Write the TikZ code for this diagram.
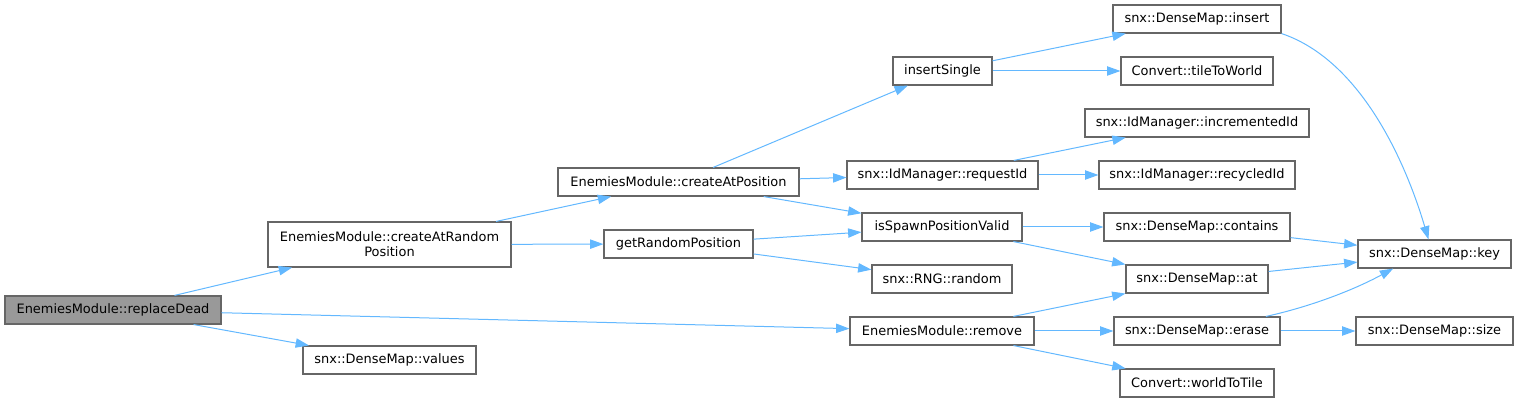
\documentclass[tikz,border=0pt]{standalone}
\usepackage{fontspec}
\setmainfont{DejaVu Sans}
\usepackage{xcolor}
\usepackage{tikz}
\usetikzlibrary{arrows.meta, positioning}
\definecolor{edgeblue}{HTML}{63B8FF}
\definecolor{boxgray}{HTML}{666666}
\tikzstyle{func}   = [rectangle, draw=boxgray, line width=0.85pt, fill=white, text centered,
                       minimum height=21pt, inner sep=0pt, font=\fontsize{9.7}{11.5}\selectfont]
\tikzstyle{root}   = [func, fill=black!40]
\tikzstyle{call}   = [-{Triangle[length=10pt, width=7pt]}, draw=edgeblue, line width=0.75pt]

\begin{document}
\begin{tikzpicture}[x=0.75pt, y=-0.75pt]
  \useasboundingbox (0,0) rectangle (1518,402);

  % Root function
  \node[root, minimum width=162pt] (replaceDead) at (113,310) {EnemiesModule::replaceDead};

  % First level
  \node[func, minimum width=182.25pt, minimum height=33.75pt, align=center] (createRandom) at (389.5,244.5)
    {EnemiesModule::createAtRandom\\Position};
  \node[func, minimum width=129.75pt] (values) at (389.5,360) {snx::DenseMap::values};

  % Second level
  \node[func, minimum width=180.75pt] (createAt)  at (678.5,182) {EnemiesModule::createAtPosition};
  \node[func, minimum width=111.75pt] (randomPos) at (678.5,244) {getRandomPosition};

  % Third level
  \node[func, minimum width=74.25pt]  (insertSingle) at (942.5,71)  {insertSingle};
  \node[func, minimum width=143.25pt] (requestId)    at (942.5,175) {snx::IdManager::requestId};
  \node[func, minimum width=120pt]    (spawnValid)   at (942,227)   {isSpawnPositionValid};
  \node[func, minimum width=105pt]    (rngRandom)    at (942,279)   {snx::RNG::random};
  \node[func, minimum width=138pt]    (remove)       at (942,331)   {EnemiesModule::remove};

  % Fourth level
  \node[func, minimum width=126pt]   (insert)        at (1197,19)  {snx::DenseMap::insert};
  \node[func, minimum width=114pt]   (tileToWorld)   at (1197,71)  {Convert::tileToWorld};
  \node[func, minimum width=168pt]   (incrementedId) at (1197,123) {snx::IdManager::incrementedId};
  \node[func, minimum width=147pt]   (recycledId)    at (1197,175) {snx::IdManager::recycledId};
  \node[func, minimum width=139.5pt] (contains)      at (1197,227) {snx::DenseMap::contains};
  \node[func, minimum width=106.5pt] (at)            at (1197,279) {snx::DenseMap::at};
  \node[func, minimum width=124.5pt] (erase)         at (1197,331) {snx::DenseMap::erase};
  \node[func, minimum width=115.5pt] (worldToTile)   at (1197,383) {Convert::worldToTile};

  % Fifth level
  \node[func, minimum width=114.75pt] (key)  at (1434.5,254) {snx::DenseMap::key};
  \node[func, minimum width=117.75pt] (size) at (1434.5,331) {snx::DenseMap::size};

  % Calls from replaceDead
  \draw[call] (replaceDead) -- (createRandom);
  \draw[call] (replaceDead) -- (remove);
  \draw[call] (replaceDead) -- (values);

  % Calls from createAtRandomPosition
  \draw[call] (createRandom) -- (createAt);
  \draw[call] (createRandom) -- (randomPos);

  % Calls from createAtPosition
  \draw[call] (createAt) -- (insertSingle);
  \draw[call] (createAt) -- (requestId);
  \draw[call] (createAt) -- (spawnValid);

  % Calls from getRandomPosition
  \draw[call] (randomPos) -- (spawnValid);
  \draw[call] (randomPos) -- (rngRandom);

  % Calls from insertSingle
  \draw[call] (insertSingle) -- (insert);
  \draw[call] (insertSingle) -- (tileToWorld);

  % Calls from requestId
  \draw[call] (requestId) -- (incrementedId);
  \draw[call] (requestId) -- (recycledId);

  % Calls from isSpawnPositionValid
  \draw[call] (spawnValid) -- (contains);
  \draw[call] (spawnValid) -- (at);

  % Calls from remove
  \draw[call] (remove) -- (at);
  \draw[call] (remove) -- (erase);
  \draw[call] (remove) -- (worldToTile);

  % Calls into key and size
  \draw[call] (insert.south east) .. controls (1360,60) and (1405,160) .. ([xshift=-4.5pt]key.north);
  \draw[call] (contains) -- (key);
  \draw[call] (at) -- (key);
  \draw[call] ([xshift=-11pt]erase.north east) .. controls (1305,308) and (1350,292) .. ([xshift=-31pt]key.south);
  \draw[call] (erase) -- (size);
\end{tikzpicture}
\end{document}
